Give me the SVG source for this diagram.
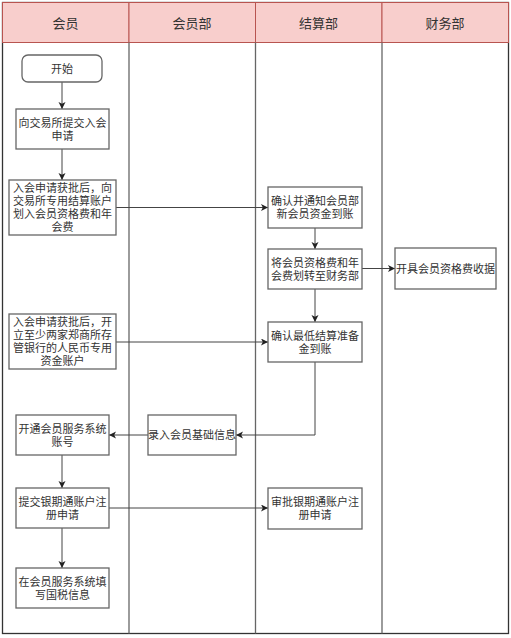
<svg xmlns="http://www.w3.org/2000/svg" width="511" height="638" viewBox="0 0 511 638">
<style>
.hdr{fill:#f8cecc;stroke:#b85450;stroke-width:1}
.hdrt{font-family:"Liberation Sans","Noto Sans CJK SC",sans-serif;font-size:13px;fill:#333;text-anchor:middle;dominant-baseline:central}
.lane{stroke:#666;stroke-width:1.3;fill:none}
.box{fill:#fff;stroke:#666;stroke-width:1.3}
.t{font-family:"Liberation Sans","Noto Sans CJK SC",sans-serif;font-size:11px;fill:#333;text-anchor:middle;dominant-baseline:central}
.c{fill:none;stroke:#444;stroke-width:1;marker-end:url(#ah)}
</style>
<defs>
<marker id="ah" markerUnits="userSpaceOnUse" markerWidth="8" markerHeight="8" refX="7" refY="3.5" orient="auto">
<path d="M0,0 L7,3.5 L0,7 L1.8,3.5 z" fill="#222"/>
</marker>
</defs>
<rect x="0" y="0" width="511" height="638" fill="#fff"/>
<g id="lanes">
<rect x="2.5" y="2.5" width="506" height="631" fill="#fff" stroke="#333" stroke-width="1.3"/>
<rect class="hdr" x="2.5" y="2.5" width="126.5" height="40"/>
<rect class="hdr" x="129" y="2.5" width="126.5" height="40"/>
<rect class="hdr" x="255.5" y="2.5" width="126.5" height="40"/>
<rect class="hdr" x="382" y="2.5" width="126.5" height="40"/>
<line class="lane" x1="129" y1="42.5" x2="129" y2="633.5"/>
<line class="lane" x1="255.5" y1="42.5" x2="255.5" y2="633.5"/>
<line class="lane" x1="382" y1="42.5" x2="382" y2="633.5"/>
<text class="hdrt" x="65.5" y="23">会员</text>
<text class="hdrt" x="192" y="23">会员部</text>
<text class="hdrt" x="318.5" y="23">结算部</text>
<text class="hdrt" x="445" y="23">财务部</text>
</g>
<g id="connectors">
<line class="c" x1="62" y1="82" x2="62" y2="109"/>
<line class="c" x1="62" y1="149" x2="62" y2="180"/>
<line class="c" x1="116" y1="207.5" x2="268" y2="207.5"/>
<line class="c" x1="315" y1="228" x2="315" y2="249"/>
<line class="c" x1="362" y1="268.5" x2="395" y2="268.5"/>
<line class="c" x1="315" y1="289" x2="315" y2="322"/>
<line class="c" x1="116" y1="342" x2="268" y2="342"/>
<path class="c" d="M315,362 V435 H236"/>
<line class="c" x1="148" y1="435" x2="109" y2="435"/>
<line class="c" x1="62" y1="455" x2="62" y2="488"/>
<line class="c" x1="109" y1="508" x2="268" y2="508"/>
<line class="c" x1="62" y1="528" x2="62" y2="568"/>
</g>
<g id="n_start">
<rect class="box" x="22" y="55" width="80" height="27" rx="6"/>
<text class="t" x="62" y="68.5">开始</text>
</g>
<g id="n_submit">
<rect class="box" x="16" y="109" width="93" height="40"/>
<text class="t" x="62.5" y="122.5">向交易所提交入会</text>
<text class="t" x="62.5" y="135.5">申请</text>
</g>
<g id="n_pay">
<rect class="box" x="9" y="180" width="107" height="55"/>
<text class="t" x="62.5" y="188">入会申请获批后，向</text>
<text class="t" x="62.5" y="201">交易所专用结算账户</text>
<text class="t" x="62.5" y="214">划入会员资格费和年</text>
<text class="t" x="62.5" y="227">会费</text>
</g>
<g id="n_open">
<rect class="box" x="9" y="314" width="107" height="55"/>
<text class="t" x="62.5" y="322">入会申请获批后，开</text>
<text class="t" x="62.5" y="335">立至少两家郑商所存</text>
<text class="t" x="62.5" y="348">管银行的人民币专用</text>
<text class="t" x="62.5" y="361">资金账户</text>
</g>
<g id="n_account">
<rect class="box" x="16" y="415" width="93" height="40"/>
<text class="t" x="62.5" y="428.5">开通会员服务系统</text>
<text class="t" x="62.5" y="441.5">账号</text>
</g>
<g id="n_register">
<rect class="box" x="16" y="488" width="93" height="40"/>
<text class="t" x="62.5" y="501.5">提交银期通账户注</text>
<text class="t" x="62.5" y="514.5">册申请</text>
</g>
<g id="n_tax">
<rect class="box" x="16" y="568" width="93" height="40"/>
<text class="t" x="62.5" y="581.5">在会员服务系统填</text>
<text class="t" x="62.5" y="594.5">写国税信息</text>
</g>
<g id="n_basic">
<rect class="box" x="148" y="415" width="88" height="40"/>
<text class="t" x="192" y="435">录入会员基础信息</text>
</g>
<g id="n_confirm">
<rect class="box" x="268" y="187" width="94" height="41"/>
<text class="t" x="315" y="201">确认并通知会员部</text>
<text class="t" x="315" y="214">新会员资金到账</text>
</g>
<g id="n_transfer">
<rect class="box" x="268" y="249" width="94" height="40"/>
<text class="t" x="315" y="262.5">将会员资格费和年</text>
<text class="t" x="315" y="275.5">会费划转至财务部</text>
</g>
<g id="n_reserve">
<rect class="box" x="268" y="322" width="94" height="40"/>
<text class="t" x="315" y="335.5">确认最低结算准备</text>
<text class="t" x="315" y="348.5">金到账</text>
</g>
<g id="n_approve">
<rect class="box" x="268" y="488" width="94" height="41"/>
<text class="t" x="315" y="502">审批银期通账户注</text>
<text class="t" x="315" y="515">册申请</text>
</g>
<g id="n_receipt">
<rect class="box" x="395" y="248" width="101" height="41"/>
<text class="t" x="445.5" y="268.5">开具会员资格费收据</text>
</g>
</svg>
